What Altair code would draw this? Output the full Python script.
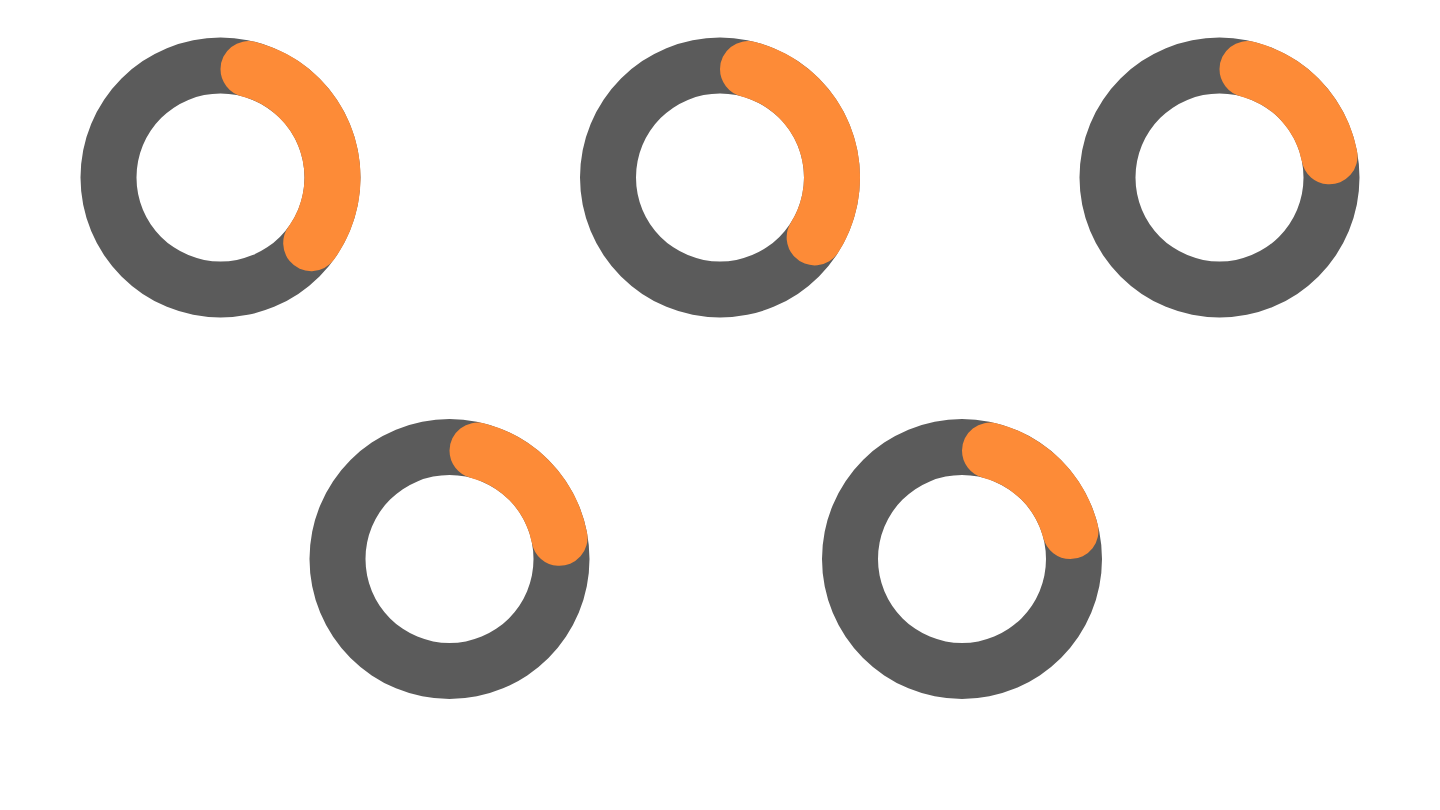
import math
import altair as alt
import pandas as pd

# Data
items = ["Item 1", "Item 2", "Item 3", "Item 4", "Item 5"]
values = [0.39, 0.38, 0.26, 0.26, 0.25]

GRAY = "#5b5b5b"
ORANGE = "#fd8b37"
OUTER = 140
INNER = 84


def donut(i):
    df = pd.DataFrame({"item": [items[i]], "value": [values[i]]})
    base = alt.Chart(df)
    track = base.mark_arc(
        innerRadius=INNER, outerRadius=OUTER, theta=0, theta2=2 * math.pi
    ).encode(color=alt.value(GRAY))
    prog = base.mark_arc(
        innerRadius=INNER, outerRadius=OUTER, cornerRadius=(OUTER - INNER) / 2
    ).encode(
        theta=alt.Theta("value:Q", scale=alt.Scale(domain=[0, 1]), stack=True),
        color=alt.value(ORANGE),
    )
    return alt.layer(track, prog).properties(width=280, height=280)


spacer = (
    alt.Chart(pd.DataFrame({"x": []}))
    .mark_point(opacity=0)
    .encode(x=alt.value(0))
    .properties(width=229, height=280)
)

top = alt.hconcat(donut(0), donut(1), donut(2), spacing=219.5)
bottom = alt.hconcat(
    spacer, alt.hconcat(donut(3), donut(4), spacing=232.5), spacing=0
)

chart = (
    alt.vconcat(top, bottom, spacing=101.5)
    .properties(padding={"left": 72.5, "top": 29.5, "right": 0, "bottom": 0})
    .configure_view(stroke=None)
)

chart.save("out.html", embed_options={"renderer": "svg", "actions": False})
